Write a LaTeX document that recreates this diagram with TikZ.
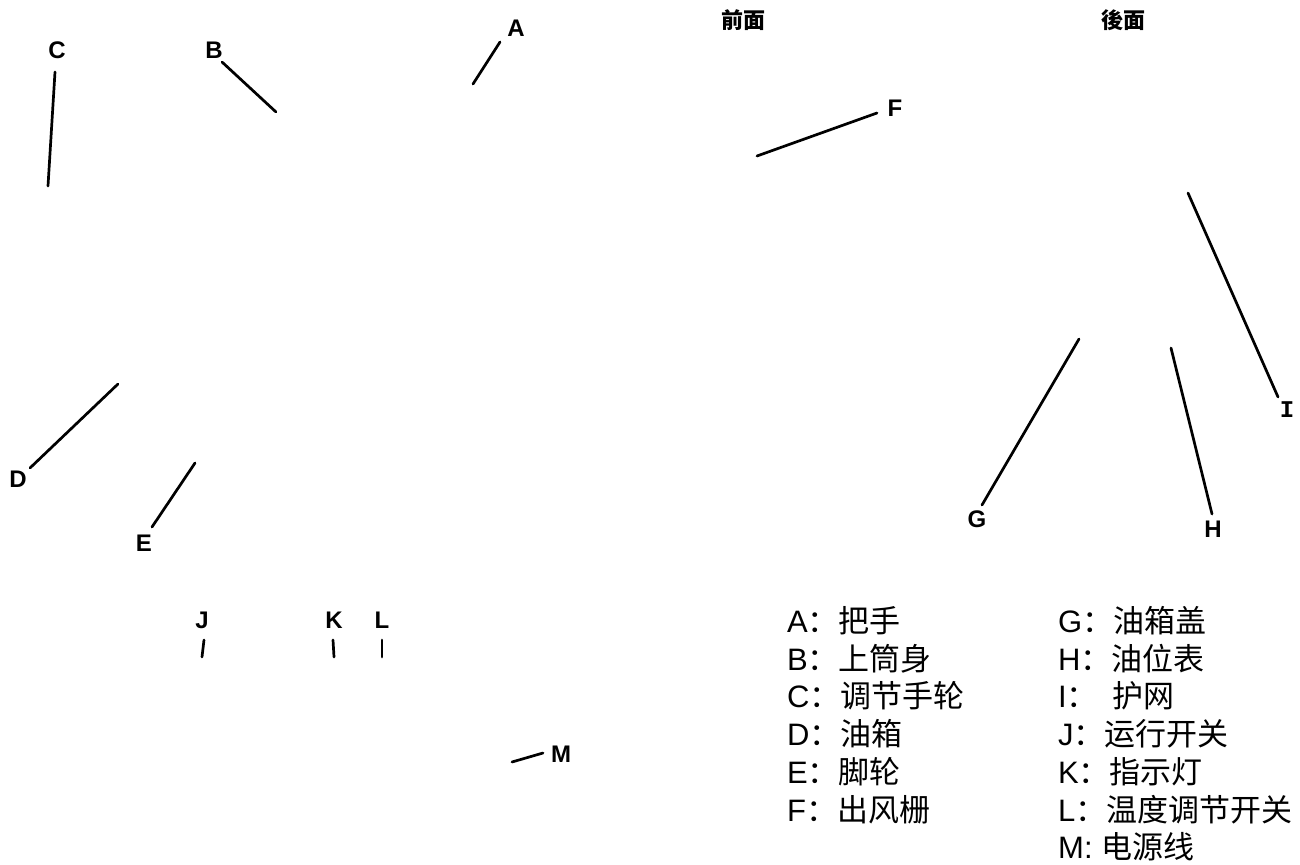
\documentclass[tikz,border=0pt]{standalone}
\usepackage{fontspec}
\setmainfont{Liberation Sans}
\newfontfamily\cjk{Noto Sans CJK SC}
\newfontfamily\monob{Liberation Mono}
\begin{document}
\begin{tikzpicture}[x=1pt,y=-1pt,
  lbl/.style={font=\fontsize{24}{27}\selectfont\bfseries, inner sep=0pt},
  ttl/.style={font=\cjk\fontsize{22}{25}\selectfont\bfseries, inner sep=0pt},
  leg/.style={font=\fontsize{31}{36}\selectfont, inner sep=0pt, anchor=west},
  ldr/.style={line width=2.7pt, line cap=round}]
\useasboundingbox (0,0) rectangle (1300,864);
% titles
\node[ttl] (front) at (743,20) {前面};
\node[ttl] (back) at (1123,20) {後面};
% labels
\node[lbl] (A) at (516,28) {A};
\node[lbl] (B) at (214,50) {B};
\node[lbl] (C) at (57,50) {C};
\node[lbl] (D) at (18,479) {D};
\node[lbl] (E) at (144,543) {E};
\node[lbl] (F) at (895,108) {F};
\node[lbl] (G) at (977,519) {G};
\node[lbl] (H) at (1213,529) {H};
\node[lbl,font=\monob\fontsize{24}{27}\selectfont\bfseries] (I) at (1287,410) {I};
\node[lbl] (J) at (202,620) {J};
\node[lbl] (K) at (334,620) {K};
\node[lbl] (L) at (382,620) {L};
\node[lbl] (M) at (561,754) {M};
% free ends
\coordinate (a0) at (500,42);  \coordinate (a1) at (473,84);
\coordinate (b0) at (222,62);  \coordinate (b1) at (276,112);
\coordinate (c0) at (55,72);   \coordinate (c1) at (48,186);
\coordinate (d0) at (30,468);  \coordinate (d1) at (118,384);
\coordinate (e0) at (152,527); \coordinate (e1) at (195,463);
\coordinate (f0) at (877,113); \coordinate (f1) at (757,156);
\coordinate (g0) at (982,505); \coordinate (g1) at (1079,339);
\coordinate (h0) at (1212,514);\coordinate (h1) at (1171,348);
\coordinate (i0) at (1278,397);\coordinate (i1) at (1188,193);
\coordinate (j0) at (204,640); \coordinate (j1) at (202,657);
\coordinate (k0) at (333,640); \coordinate (k1) at (334,657);
\coordinate (l0) at (382,640); \coordinate (l1) at (382,657);
\coordinate (m0) at (543,753); \coordinate (m1) at (512,762);
\foreach \s in {a,b,c,d,e,f,g,h,i,j,k,l,m}{\draw[ldr] (\s0) -- (\s1);}
% legend
\node[leg] (lA) at (787,621) {A{\cjk ：把手}};
\node[leg] (lB) at (787,659) {B{\cjk ：上筒身}};
\node[leg] (lC) at (787,696) {C{\cjk ：调节手轮}};
\node[leg] (lD) at (787,734) {D{\cjk ：油箱}};
\node[leg] (lE) at (787,772) {E{\cjk ：脚轮}};
\node[leg] (lF) at (787,810) {F{\cjk ：出风栅}};
\node[leg] (lG) at (1058,621) {G{\cjk ：油箱盖}};
\node[leg] (lH) at (1058,659) {H{\cjk ：油位表}};
\node[leg] (lI) at (1058,696) {I{\cjk ：\hspace{15pt}护网}};
\node[leg] (lJ) at (1058,734) {J{\cjk ：运行开关}};
\node[leg] (lK) at (1058,772) {K{\cjk ：指示灯}};
\node[leg] (lL) at (1058,810) {L{\cjk ：温度调节开关}};
\node[leg] (lM) at (1058,847) {M: {\cjk 电源线}};
\end{tikzpicture}
\end{document}
